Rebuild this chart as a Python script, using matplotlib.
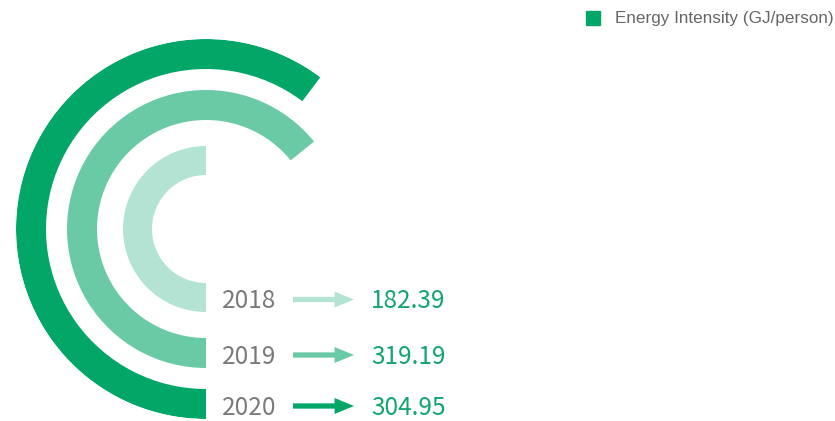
import numpy as np
import matplotlib.pyplot as plt
from matplotlib.lines import Line2D
from matplotlib.transforms import offset_copy

years = ["2018", "2019", "2020"]
values = ["182.39", "319.19", "304.95"]
# arc length of each ring in degrees
arc_deg = [180, 231, 217]
ring_inner = [54, 109, 160]
ring_outer = [83, 139, 190]
ring_colors = ["#b3e4d3", "#6bcaa6", "#02a768"]

value_color = "#12a56d"
year_color = "#7a7a7a"

fig = plt.figure(figsize=(8.35, 4.21), dpi=100)
ax = fig.add_axes([16 / 835, 2 / 421, 380 / 835, 380 / 421], projection="polar")
ax.set_theta_zero_location("S")
ax.set_theta_direction(-1)
ax.set_ylim(0, 190)
ax.axis("off")

for i in range(len(years)):
    ax.bar(0, ring_outer[i] - ring_inner[i], width=np.radians(arc_deg[i]),
           bottom=ring_inner[i], align="edge", color=ring_colors[i], lw=0)

cjk = ["Noto Sans CJK SC", "DejaVu Sans"]
for i in range(len(years)):
    r_mid = (ring_inner[i] + ring_outer[i]) / 2
    ax.annotate(years[i], xy=(0, r_mid), xytext=(16, -4), textcoords="offset pixels",
                ha="left", va="center", fontsize=17.5, color=year_color,
                family=cjk, weight="light", annotation_clip=False)
    end = offset_copy(ax.transData, fig=fig, x=148, y=-2, units="dots")
    ax.annotate("", xy=(0, r_mid), xycoords=end, xytext=(-61, 0),
                textcoords="offset pixels", annotation_clip=False,
                arrowprops=dict(arrowstyle="simple,head_length=14,head_width=11.5,tail_width=3.8",
                                mutation_scale=1, color=ring_colors[i], lw=0,
                                shrinkA=0, shrinkB=0))
    ax.annotate(values[i], xy=(0, r_mid), xytext=(165, -4), textcoords="offset pixels",
                ha="left", va="center", fontsize=17.5, color=value_color,
                family=cjk, annotation_clip=False)

handle = Line2D([], [], marker="s", ls="", ms=9.5, color="#02a768")
fig.legend([handle], ["Energy Intensity (GJ/person)"], loc="center left",
           bbox_to_anchor=(586 / 835, 1 - 19 / 421), frameon=False,
           handlelength=0.8, handletextpad=0.9, borderpad=0, borderaxespad=0,
           prop=dict(family="Liberation Sans", size=12.3),
           labelcolor="#666666")

fig.savefig("out.png", dpi=100)
